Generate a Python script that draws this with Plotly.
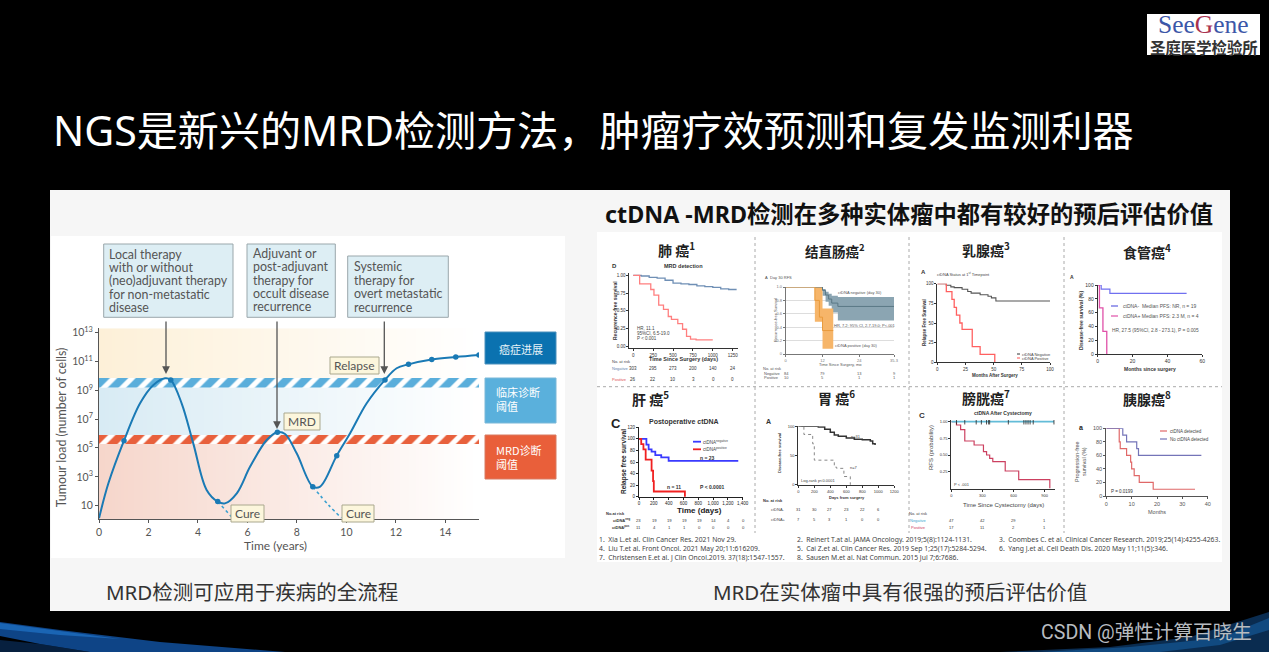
import numpy as np
import plotly.graph_objects as go

W, H = 1269, 652
CJK = "Noto Sans CJK SC"

# ---------- data ----------
main_t = [0, 0.38, 1.01, 1.66, 2.2, 2.67, 2.9, 3.34, 3.81, 4.35, 4.8, 5.09, 5.57, 6.11, 6.78, 7.21, 7.52, 7.99, 8.64, 8.94, 9.61, 10.15, 10.82, 11.56, 12.03, 12.51, 13.45, 14.42, 15.36]
main_log = [0.12, 2.55, 5.51, 8.1, 9.37, 9.83, 9.72, 8.1, 5.32, 2.09, 1.28, 1.16, 1.86, 3.71, 5.55, 6.09, 5.97, 4.63, 2.32, 2.32, 4.47, 6.02, 8.1, 9.72, 10.53, 10.8, 11.13, 11.31, 11.45]
dot_t = [1.01, 2.9, 4.8, 7.21, 8.64, 9.61, 11.56, 12.51, 13.45, 14.42, 15.36]
dot_log = [5.51, 9.72, 1.28, 6.09, 2.32, 4.47, 9.72, 10.8, 11.13, 11.31, 11.45]
cure1_t, cure1_log = [4.8, 5.4], [1.28, 0.15]
cure2_t, cure2_log = [8.64, 9.3, 9.8], [2.32, 1.0, 0.15]
blue_band, red_band = [9.2, 9.85], [5.28, 5.9]
main_xticks = [0, 2, 4, 6, 8, 10, 12, 14]
main_yticks = [1, 3, 5, 7, 9, 11, 13]

lung_neg_t = [0, 100, 200, 300, 400, 500, 600, 700, 800, 900, 1000, 1100, 1200, 1300]
lung_neg_s = [1, .99, .97, .96, .93, .89, .88, .87, .85, .84, .83, .81, .80, .80]
lung_pos_t = [0, 80, 220, 260, 320, 380, 440, 480, 560, 620, 670, 720, 790, 1000]
lung_pos_s = [1, .88, .8, .72, .58, .52, .42, .38, .32, .24, .14, .1, .09, .09]
lung_risk = [[303, 295, 273, 200, 140, 24], [26, 22, 10, 3, 0, 0]]

crc_neg_t = [0, 10.5, 12, 13, 14, 15, 17, 35.3]
crc_neg_hi = [1, 1, .97, .93, .9, .87, .85, .85]
crc_neg_lo = [1, 1, .87, .78, .72, .62, .5, .5]
crc_neg_s = [1, 1, .95, .88, .82, .76, .71, .71]
crc_pos_t = [0, 9.5, 12, 15.5]
crc_pos_hi = [1, 1, .68, .68]
crc_pos_lo = [1, .48, .08, .08]
crc_med_t = [0, 9.5, 11, 12, 15.5]
crc_med_s = [1, .8, .55, .35, .35]
crc_risk = [[84, 79, 13, 9], [10, 5, 1, 1]]

brst_neg_t = [0, 8, 12, 15, 22, 27, 30, 38, 45, 48, 52, 100]
brst_neg_s = [100, 98, 96, 95, 93, 90, 88, 86, 84, 82, 78, 78]
brst_pos_t = [0, 8, 13, 15, 17, 20, 22, 31, 38, 51]
brst_pos_s = [100, 90, 80, 70, 60, 50, 42, 20, 10, 0]

eso_neg_t = [0, 2, 7, 51]
eso_neg_s = [100, 94, 88, 88]
eso_pos_t = [0, 1, 3, 5.2]
eso_pos_s = [100, 67, 33, 0]

liv_neg_t = [0, 100, 130, 170, 220, 300, 400, 450, 1340]
liv_neg_s = [100, 90, 82, 78, 72, 68, 62, 62, 62]
liv_pos_t = [0, 30, 60, 90, 170, 190, 200, 620, 630]
liv_pos_s = [100, 91, 82, 64, 45, 27, 9, 0, 0]
liv_risk = [[23, 19, 19, 19, 19, 14, 4, 0], [11, 4, 1, 1, 0, 0, 0, 0]]

gas_neg_t = [0, 250, 330, 400, 450, 500, 600, 700, 800, 900, 930, 960]
gas_neg_s = [100, 99, 95, 90, 85, 83, 80, 78, 77, 75, 70, 68]
gas_pos_t = [0, 70, 180, 200, 450, 480, 570, 650, 660]
gas_pos_s = [100, 86, 70, 42, 30, 28, 14, 0, 0]
gas_risk = [[31, 30, 27, 23, 22, 6], [7, 5, 3, 1, 0, 0]]

bla_neg_t = [0, 990]
bla_neg_s = [1, 1]
bla_cens_t = [50, 130, 240, 290, 340, 360, 370, 550, 700, 720, 740, 760, 790, 990]
bla_pos_t = [0, 50, 90, 130, 220, 310, 340, 370, 400, 520, 650, 950]
bla_pos_s = [1, .95, .88, .71, .65, .55, .5, .45, .4, .26, .13, 0]
bla_risk = [[47, 42, 29, 1], [17, 11, 2, 1]]

pan_det_t = [0, 5.1, 5.5, 8, 9.6, 10, 11, 13, 18.5, 35]
pan_det_s = [100, 80, 70, 60, 50, 40, 30, 20, 10, 10]
pan_no_t = [0, 6.5, 8, 12, 12.7, 37.5]
pan_no_s = [100, 90, 80, 70, 60, 60]

refs = [
    ["1.  Xia L.et al. Clin Cancer Res. 2021 Nov 29.", "4.  Liu T.et al. Front Oncol. 2021 May 20;11:616209.", "7.  Christensen E.et al. J Clin Oncol.2019. 37(18):1547-1557."],
    ["2.  Reinert T.at al. JAMA Oncology. 2019;5(8):1124-1131.", "5.  Cai Z.et al. Clin Cancer Res. 2019 Sep 1;25(17):5284-5294.", "8.  Sausen M.et al. Nat Commun. 2015 Jul 7;6:7686."],
    ["3.  Coombes C. et al. Clinical Cancer Research. 2019;25(14):4255-4263.", "6.  Yang J.et al. Cell Death Dis. 2020 May 11;11(5):346."],
]

# ---------- helpers ----------
def fx(x): return x / W
def fy(y): return 1 - y / H

fig = go.Figure()
shapes, annos, axes_cfg = [], [], {}

def rect(x0, y0, x1, y1, fill, line=None, lw=1, layer="below"):
    shapes.append(dict(type="rect", xref="paper", yref="paper", x0=fx(x0), x1=fx(x1), y0=fy(y1), y1=fy(y0),
                       fillcolor=fill, line=dict(color=line or fill, width=lw if line else 0), layer=layer))

def hline(x0, y0, x1, y1, color, lw=1, dash="solid", layer="below"):
    shapes.append(dict(type="line", xref="paper", yref="paper", x0=fx(x0), x1=fx(x1), y0=fy(y0), y1=fy(y1),
                       line=dict(color=color, width=lw, dash=dash), layer=layer))

def poly(pts, fill):
    d = "M" + " L".join(f"{fx(a):.5f},{fy(b):.5f}" for a, b in pts) + " Z"
    shapes.append(dict(type="path", xref="paper", yref="paper", path=d, fillcolor=fill, line=dict(width=0), layer="below"))

def txt(x, y, s, size=6, color="#444", bold=False, anchor="center", angle=0, font=None, align=None):
    if bold:
        s = f"<b>{s}</b>"
    size = max(size, 4)
    annos.append(dict(xref="paper", yref="paper", x=fx(x), y=fy(y), text=s, showarrow=False, xanchor=anchor, yanchor="middle",
                      textangle=angle, align=align or "center", font=dict(size=size, color=color, family=font or f"Liberation Sans, {CJK}"), borderpad=0, borderwidth=0))

def arrow(x, y0, y1):
    annos.append(dict(xref="paper", yref="paper", x=fx(x), y=fy(y1), ax=0, ay=y0 - y1, axref="pixel", ayref="pixel", text="",
                      showarrow=True, arrowhead=2, arrowsize=1.2, arrowwidth=1.3, arrowcolor="#555"))

def axes(n, box, xr, yr, xt, yt, size=5.5, lw=1, color="#333", xlab=None, ylab=None, showx=True, ticklen=2):
    x0, x1, y0, y1 = box
    size = max(size, 4)
    axes_cfg[f"xaxis{n}"] = dict(domain=[fx(x0), fx(x1)], anchor=f"y{n}", range=xr, tickmode="array", tickvals=xt, automargin=False,
                                 ticktext=xlab if xlab else [str(v) for v in xt], ticks="outside", ticklen=ticklen, tickwidth=lw, showgrid=False,
                                 zeroline=False, showline=showx, linecolor=color, linewidth=lw, tickcolor=color,
                                 tickfont=dict(size=size, color=color, family="Liberation Sans"), fixedrange=True)
    axes_cfg[f"yaxis{n}"] = dict(domain=[fy(y1), fy(y0)], anchor=f"x{n}", range=yr, tickmode="array", tickvals=yt, automargin=False,
                                 ticktext=ylab if ylab else [str(v) for v in yt], ticks="outside", ticklen=ticklen, tickwidth=lw, showgrid=False,
                                 zeroline=False, showline=True, linecolor=color, linewidth=lw, tickcolor=color,
                                 tickfont=dict(size=size, color=color, family="Liberation Sans"), fixedrange=True)

def step(n, t, s, color, w=1.2, dash="solid", shape="hv"):
    fig.add_trace(go.Scatter(x=t, y=s, mode="lines", line=dict(color=color, width=w, dash=dash, shape=shape),
                             xaxis=f"x{n}", yaxis=f"y{n}", showlegend=False, hoverinfo="skip"))

def band(n, t, lo, hi, color):
    fig.add_trace(go.Scatter(x=t, y=lo, mode="lines", line=dict(width=0, shape="hv"), xaxis=f"x{n}", yaxis=f"y{n}", showlegend=False, hoverinfo="skip"))
    fig.add_trace(go.Scatter(x=t, y=hi, mode="lines", line=dict(width=0, shape="hv"), fill="tonexty", fillcolor=color,
                             xaxis=f"x{n}", yaxis=f"y{n}", showlegend=False, hoverinfo="skip"))

def risk(rows, xs, ys, size=5, color="#333"):
    for row, y in zip(rows, ys):
        for v, x in zip(row, xs):
            txt(x, y, str(v), size=size, color=color)

# ---------- slide background ----------
rect(0, 0, W, H, "#000000")
poly([(0, 640), (40, 644), (90, 652), (0, 652)], "#07203f")
poly([(0, 622), (60, 630), (160, 642), (285, 652), (90, 652), (40, 644), (0, 636)], "#0e4486")
poly([(0, 623), (60, 631), (120, 639), (60, 635), (0, 629)], "#1a65b4")
poly([(1000, 652), (1110, 647), (1190, 637), (1269, 612), (1269, 652)], "#0a2c50")
poly([(1040, 652), (1130, 647), (1220, 638), (1269, 618), (1269, 630), (1220, 645), (1160, 652)], "#114a80")

txt(53, 130, "NGS是新兴的MRD检测方法，肿瘤疗效预测和复发监测利器", size=41.1, color="#ffffff", anchor="left", font=f"Noto Sans, {CJK}")

# logo
rect(1147, 14, 1260, 55, "#ffffff")
txt(1203, 24, '<span style="color:#3c57a8">See</span><span style="color:#a8324f">G</span><span style="color:#3c57a8">ene</span>',
    size=25.5, anchor="center", font="Liberation Serif")
txt(1203.5, 47, "圣庭医学检验所", size=15.4, color="#333", bold=True, font=CJK)

# slide panel
rect(50, 190, 1230, 611, "#f6f6f6")
rect(51, 236, 565, 558, "#ffffff")
rect(597, 232, 1222, 562, "#ffffff")
txt(909, 214, "ctDNA -MRD检测在多种实体瘤中都有较好的预后评估价值", size=23.3, color="#111", bold=True, font=f"Noto Sans, {CJK}")
txt(252, 592, "MRD检测可应用于疾病的全流程", size=20.5, color="#333", font=f"Noto Sans, {CJK}")
txt(900, 592, "MRD在实体瘤中具有很强的预后评估价值", size=20.5, color="#333", font=f"Noto Sans, {CJK}")
txt(1146.5, 632, "CSDN @弹性计算百晓生", size=19.6, color="#b8bcc0", font=f"Roboto, {CJK}")

# ---------- main chart ----------
tmax = main_t[-1]
grid = np.linspace(0, tmax, 121).tolist()
shade = [[v / 119 for v in range(120)]]
for lo, hi, col in [(0.075, red_band[0], "#f6d6cb"), (red_band[1], blue_band[0], "#d8ebf4"), (blue_band[1], 13.3, "#fdf0d8")]:
    fig.add_trace(go.Heatmap(x=grid, y=[lo, hi], z=shade, colorscale=[[0, col], [1, "#ffffff"]], showscale=False, zmin=0, zmax=1,
                             xaxis="x1", yaxis="y1", hoverinfo="skip"))
for bnd, col in [(blue_band, "#5aaedb"), (red_band, "#e8603c")]:
    fig.add_trace(go.Bar(x=[tmax / 2], y=[bnd[1] - bnd[0]], base=[bnd[0]], width=[tmax], xaxis="x1", yaxis="y1", showlegend=False, hoverinfo="skip",
                         marker=dict(color="#ffffff", line=dict(width=0),
                                     pattern=dict(shape="/", fgcolor=col, bgcolor="#ffffff", size=13, solidity=0.6, fillmode="replace", fgopacity=1))))
step(1, main_t, main_log, "#1a7ab5", w=2, shape="spline")
step(1, cure1_t, cure1_log, "#3aa0d0", w=1.6, dash="dot", shape="linear")
step(1, cure2_t, cure2_log, "#3aa0d0", w=1.6, dash="dot", shape="spline")
fig.add_trace(go.Scatter(x=dot_t, y=dot_log, mode="markers", marker=dict(color="#1a7ab5", size=5.5), xaxis="x1", yaxis="y1", showlegend=False, hoverinfo="skip"))
axes(1, (99, 479, 328.3, 519), [0, tmax], [0.075, 13.3], main_xticks, main_yticks, size=10.5, color="#555", ticklen=3,
     ylab=["10" if v == 1 else f"10<sup>{v}</sup>" for v in main_yticks])
axes_cfg["yaxis1"]["tickfont"]["family"] = axes_cfg["xaxis1"]["tickfont"]["family"] = "Lato"
txt(275.7, 545, "Time (years)", size=12, color="#555", font="Lato")
txt(61.7, 427.5, "Tumour load (number of cells)", size=12.4, color="#555", angle=-90, font="Lato")

for x0, y0, x1, y1, tx, lines, ys in [
    (103.7, 244, 233, 317.3, 108.7, ["Local therapy", "with or without", "(neo)adjuvant therapy", "for non-metastatic", "disease"], [254.3, 267.7, 280.7, 294, 307.3]),
    (247, 244, 335.3, 317.3, 253.3, ["Adjuvant or", "post-adjuvant", "therapy for", "occult disease", "recurrence"], [253.3, 266.7, 280, 293.3, 306.7]),
    (347.7, 256, 448.3, 317.3, 353.7, ["Systemic", "therapy for", "overt metastatic", "recurrence"], [266, 280, 293.3, 307]),
]:
    rect(x0, y0, x1, y1, "#ddeef4", "#9aa7ab", 1)
    for s, y in zip(lines, ys):
        txt(tx, y, s, size=12.4, color="#555", anchor="left", font="Lato")
arrow(166, 320, 374)
arrow(277, 320, 429)
arrow(384.3, 320, 374)

for x0, y0, x1, y1, s in [(330, 357, 379, 374, "Relapse"), (284, 413, 320, 430, "MRD"), (231, 505, 264, 522, "Cure"), (342, 505, 374, 522, "Cure")]:
    rect(x0, y0, x1, y1, "#fcf6dc", "#aaa88e", 1, layer="above")
    txt((x0 + x1) / 2, (y0 + y1) / 2, s, size=12, color="#555", font="Lato")

rect(485, 332, 556, 364, "#0b72b0", "#4a90bc", 1)
txt(520.5, 349, "癌症进展", size=11, color="#e8f2f8", font=CJK)
rect(485, 378, 556, 423, "#5ab0dc", "#7bb8d8", 1)
txt(495.5, 399.4, "临床诊断<br>阈值", size=11, color="#ffffff", anchor="left", font=CJK, align="left")
rect(485, 435, 556, 479, "#e95f3a", "#d87a60", 1)
txt(496, 457, "MRD诊断<br>阈值", size=11, color="#ffffff", anchor="left", font=CJK, align="left")

# ---------- dividers ----------
hline(597, 386.7, 1222, 386.7, "#aaaaaa", 1, "dot")
for vx in (755, 909, 1064):
    hline(vx, 237, vx, 533, "#aaaaaa", 1, "dot")

# ---------- panel 1: lung ----------
txt(676, 249, "肺 癌<sup>1</sup>", size=14, color="#222", bold=True, font=CJK)
step(2, lung_neg_t, lung_neg_s, "#6f8fb5", 1.3)
step(2, lung_pos_t, lung_pos_s, "#ff7f7f", 1.3)
axes(2, (629.3, 738.3, 273.3, 348.3), [-50, 1321], [-0.028, 1.028], [0, 250, 500, 750, 1000, 1250], [0, .25, .5, .75, 1],
     ylab=["0.00", "0.25", "0.50", "0.75", "1.00"], size=4.5)
txt(614, 266, "D", size=6, color="#333", bold=True)
txt(683, 266, "MRD detection", size=5.5, color="#333", bold=True)
txt(615, 311, "Recurrence-free survival", size=5, color="#333", bold=True, angle=-90)
txt(683, 359, "Time Since Surgery (days)", size=5.5, color="#333", bold=True)
txt(637, 328, "HR, 11.1", size=4.5, anchor="left")
txt(637, 333, "95%CI, 6.5-19.0", size=4.5, anchor="left")
txt(637, 338, "P &lt; 0.001", size=4.5, anchor="left")
txt(612, 361, "No. at risk", size=4, anchor="left")
txt(612, 369, "Negative", size=4, color="#5f82ad", anchor="left")
txt(612, 379, "Positive", size=4, color="#e05050", anchor="left")
risk(lung_risk, [633, 653, 673, 693, 713, 733], [369, 379], size=4.5)

# ---------- panel 2: colorectal ----------
txt(835, 250, "结直肠癌<sup>2</sup>", size=13.5, color="#222", bold=True, font=CJK)
band(3, crc_neg_t, crc_neg_lo, crc_neg_hi, "#8ba5b2")
band(3, crc_pos_t, crc_pos_lo, crc_pos_hi, "#f6b569")
step(3, crc_neg_t, crc_neg_s, "#5a7885", 1)
step(3, crc_med_t, crc_med_s, "#e89a3c", 1)
axes(3, (785.7, 894, 287, 354), [0, 35.3], [0, 1], [0, 12, 24, 35.3], [0, .2, .4, .6, .8, 1], size=4, lw=0.6, color="#777",
     xlab=["0", "12", "24", "35.3"], ylab=["0", "0.2", "0.4", "0.6", "0.8", "1.0"])
axes_cfg["yaxis3"].update(showgrid=True, gridcolor="#dddddd", gridwidth=0.6)
txt(766, 277, "A", size=4, anchor="center")
txt(781, 277, "Day 30 RFS", size=4, color="#555")
txt(838, 292, "ctDNA negative (day 30)", size=4, color="#555", anchor="left")
txt(865, 325, "HR, 7.2; 95% CI, 2.7-19.0; P&lt;.001", size=4, color="#555")
txt(835, 345, "ctDNA positive (day 30)", size=4, color="#555", anchor="left")
txt(840, 364, "Time Since Surgery, mo", size=4, color="#555")
txt(775, 320, "Recurrence-free Survival", size=4, color="#555", angle=-90)
txt(763, 369, "No. at risk", size=4, color="#555", anchor="left")
txt(764, 373, "Negative", size=4, color="#555", anchor="left")
txt(764, 377, "Positive", size=4, color="#555", anchor="left")
risk(crc_risk, [786, 822, 859, 894], [373, 377], size=4, color="#555")

# ---------- panel 3: breast ----------
txt(986, 249, "乳腺癌<sup>3</sup>", size=14, color="#222", bold=True, font=CJK)
step(4, brst_neg_t, brst_neg_s, "#555555", 1.1)
step(4, brst_pos_t, brst_pos_s, "#ff6060", 1.3)
axes(4, (937.3, 1050, 283.7, 362.3), [0, 100], [0, 100], [0, 25, 50, 75, 100], [0, 25, 50, 75, 100], size=4.5)
txt(923, 272, "A", size=6, color="#333", bold=True)
txt(963, 273.5, "ctDNA Status at 1<sup>st</sup> Timepoint", size=4, color="#444")
txt(924, 323, "Relapse Free Survival", size=4.5, color="#333", bold=True, angle=-90)
txt(995, 375, "Months After Surgery", size=4.5, color="#333", bold=True)
hline(1017, 354, 1020, 354, "#333", 1)
hline(1017, 358, 1020, 358, "#ff5050", 1)
txt(1022, 354, "ctDNA Negative", size=4, anchor="left")
txt(1022, 358, "ctDNA Positive", size=4, anchor="left")

# ---------- panel 4: esophagus ----------
txt(1147, 251, "食管癌<sup>4</sup>", size=14, color="#222", bold=True, font=CJK)
step(5, eso_neg_t, eso_neg_s, "#7070f0", 1.2)
step(5, eso_pos_t, eso_pos_s, "#e050a8", 1.3)
axes(5, (1097.7, 1202.3, 285, 354.3), [0, 60], [0, 100], [0, 20, 40, 60], [0, 20, 40, 60, 80, 100], size=5)
txt(1071.7, 276.7, "A", size=5, color="#333", bold=True)
txt(1081, 320, "Disease-free survival (%)", size=5, color="#333", bold=True, angle=-90)
txt(1150, 369, "Months since surgery", size=5, color="#333", bold=True)
hline(1111, 306, 1118, 306, "#6060e0", 1.2)
hline(1111, 316, 1118, 316, "#e050a8", 1.2)
txt(1122.7, 306, "ctDNA-  Median PFS: NR, n = 19", size=5, color="#555", anchor="left")
txt(1122.7, 316, "ctDNA+ Median PFS: 2.3 M, n = 4", size=5, color="#555", anchor="left")
txt(1112, 331, "HR, 27.5 (95%CI, 2.8 - 273.1), P = 0.005", size=4.8, color="#555", anchor="left")

# ---------- panel 5: liver ----------
txt(650, 398, "肝 癌<sup>5</sup>", size=14, color="#222", bold=True, font=CJK)
step(6, liv_neg_t, liv_neg_s, "#3a3aff", 1.8)
step(6, liv_pos_t, liv_pos_s, "#f02020", 1.8)
axes(6, (639, 742.7, 427.3, 496.7), [0, 1400], [0, 120], [0, 200, 400, 600, 800, 1000, 1200, 1400], [0, 20, 40, 60, 80, 100, 120],
     xlab=["0", "200", "400", "600", "800", "1,000", "1,200", "1,400"], size=4.5, lw=1.2, color="#222")
txt(616, 423, "C", size=13, color="#222", bold=True)
txt(684, 422, "Postoperative ctDNA", size=7, color="#333", bold=True)
txt(624, 462, "Relapse free survival", size=6.5, color="#222", bold=True, angle=-90)
txt(699, 510, "Time (days)", size=8, color="#222", bold=True)
hline(693, 441.7, 701, 441.7, "#3a3aff", 1.8)
hline(693, 449.3, 701, 449.3, "#f02020", 1.8)
txt(703, 441.7, "ctDNA<sup>negative</sup>", size=4.5, anchor="left")
txt(703, 449.3, "ctDNA<sup>positive</sup>", size=4.5, anchor="left")
txt(707, 458, "n = 23", size=5, color="#333", bold=True)
txt(674, 487, "n = 11", size=5, color="#333", bold=True)
txt(712, 487, "P &lt; 0.0001", size=5, color="#333", bold=True)
txt(615, 513, "No.at risk", size=4, color="#333", bold=True)
txt(621, 520, "ctDNA<sup>neg</sup>", size=4, color="#333", bold=True, anchor="center")
txt(621, 527, "ctDNA<sup>pos</sup>", size=4, color="#333", bold=True, anchor="center")
risk(liv_risk, [639, 654, 669, 684, 699, 713, 728, 743], [520, 527], size=4.2)

# ---------- panel 6: gastric ----------
txt(837, 397, "胃 癌<sup>6</sup>", size=14, color="#222", bold=True, font=CJK)
step(7, gas_neg_t, gas_neg_s, "#333333", 1.5)
step(7, gas_pos_t, gas_pos_s, "#888888", 1, "dot")
axes(7, (798.3, 894.3, 426.3, 484.7), [0, 1200], [0, 100], [0, 200, 400, 600, 800, 1000, 1200], [0, 50, 100], size=4, lw=1.2, color="#333")
txt(768, 421, "A", size=7, color="#333", bold=True)
txt(779, 453, "Disease-free survival", size=4, color="#333", bold=True, angle=-90)
txt(847, 497, "Days from surgery", size=4, color="#333", bold=True)
txt(856, 436, "n=31", size=4)
txt(854, 467, "n=7", size=4)
txt(801, 480, "Log-rank p&lt;0.0001", size=4, anchor="left")
txt(773, 500.7, "No. at risk", size=4, color="#333", bold=True)
txt(778, 509, "ctDNA-", size=4)
txt(778, 519, "ctDNA+", size=4)
risk(gas_risk, [798, 814, 830, 846, 862, 878], [509, 519], size=4)

# ---------- panel 7: bladder ----------
txt(986, 397, "膀胱癌<sup>7</sup>", size=14, color="#222", bold=True, font=CJK)
step(8, bla_pos_t, bla_pos_s, "#cc4060", 1.2)
step(8, bla_neg_t, bla_neg_s, "#63bcd8", 1.8)
fig.add_trace(go.Scatter(x=bla_cens_t, y=[1] * len(bla_cens_t), mode="markers", marker=dict(symbol="line-ns", size=4, line=dict(color="#222", width=0.8)),
                         xaxis="x8", yaxis="y8", showlegend=False, hoverinfo="skip"))
axes(8, (951.3, 1055, 420, 489), [0, 1000], [-0.01, 1.025], [0, 300, 600, 900], [.25, .5, .75, 1],
     ylab=["0.25", "0.50", "0.75", "1.00"], size=4)
txt(922, 415, "C", size=8, color="#333", bold=True)
txt(1003, 413, "ctDNA After Cystectomy", size=5, color="#333", bold=True)
txt(931, 447, "RFS (probability)", size=6, color="#444", angle=-90)
txt(1003, 505, "Time Since Cystectomy (days)", size=6, color="#444")
txt(954, 484, "P &lt; .001", size=4, anchor="left")
txt(918, 513, "No. at risk", size=4)
txt(918, 520, "Negative", size=4, color="#3aa8d0")
txt(918, 527, "Positive", size=4, color="#d04060")
risk(bla_risk, [951, 982, 1013, 1044], [520, 527], size=4)

# ---------- panel 8: pancreas ----------
txt(1147, 398, "胰腺癌<sup>8</sup>", size=14, color="#222", bold=True, font=CJK)
step(9, pan_det_t, pan_det_s, "#e06868", 1.2)
step(9, pan_no_t, pan_no_s, "#7474b8", 1.2)
axes(9, (1106.3, 1207.7, 428.3, 496), [0, 40], [0, 100], [0, 10, 20, 30, 40], [0, 20, 40, 60, 80, 100], size=5.5, color="#555")
txt(1081, 427, "a", size=7, color="#222", bold=True)
txt(1080, 462, "Progression-free<br>survival (%)", size=5.5, color="#555", angle=-90)
txt(1157, 512, "Months", size=5.5, color="#555")
hline(1160, 431, 1167, 431, "#e06868", 1.2)
hline(1160, 439, 1167, 439, "#7474b8", 1.2)
txt(1170, 431, "ctDNA detected", size=4.5, color="#444", anchor="left")
txt(1170, 439, "No ctDNA detected", size=4.5, color="#444", anchor="left")
txt(1111, 491, "P = 0.0199", size=4.5, color="#333", anchor="left")

# ---------- references ----------
for col, x in zip(refs, (599, 797, 999)):
    for s, y in zip(col, (539, 548, 557)):
        txt(x, y, s, size=6.8, color="#444", anchor="left", font="Noto Sans")

fig.update_layout(width=W, height=H, margin=dict(l=0, r=0, t=0, b=0, autoexpand=False), paper_bgcolor="#000000", plot_bgcolor="rgba(0,0,0,0)",
                  shapes=shapes, annotations=annos, showlegend=False, barmode="overlay", **axes_cfg)
fig.write_html("out.html", config={"displayModeBar": False},
               post_script="document.body.style.margin='0';document.body.style.background='#000';")
